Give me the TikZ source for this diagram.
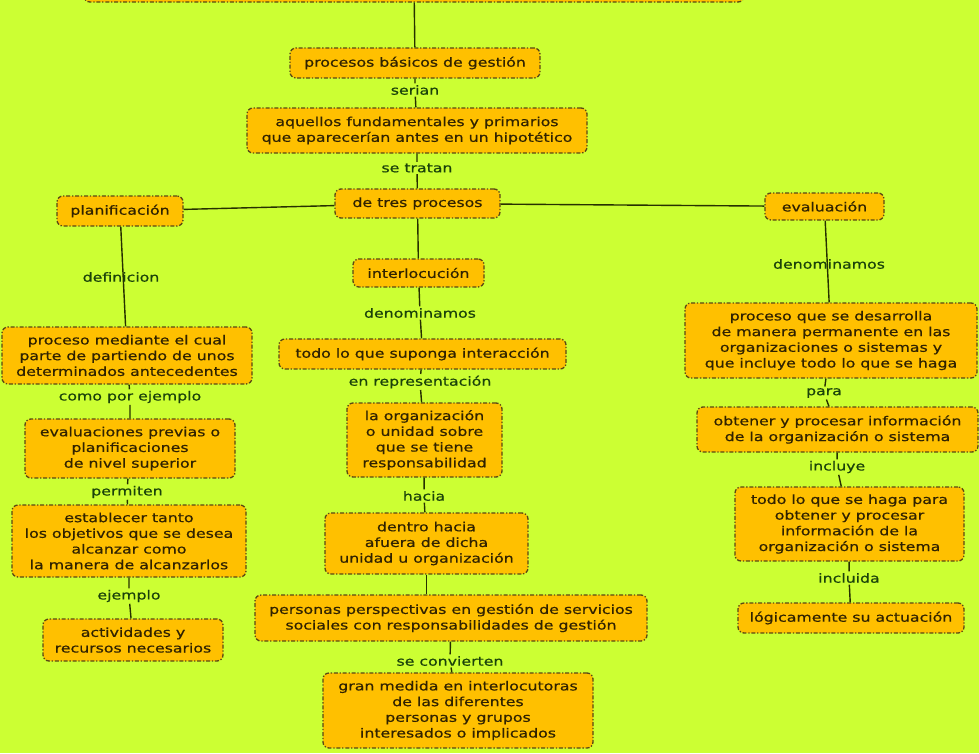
\documentclass[tikz,border=0pt]{standalone}
\usepackage{fontspec}
\setmainfont{DejaVu Sans}[FakeStretch=1.26, FakeBold=0.6]
\definecolor{bgc}{HTML}{CCFF33}
\definecolor{nodefill}{HTML}{FFC000}
\definecolor{nodeborder}{HTML}{5A4814}
\definecolor{nodetext}{HTML}{302200}
\definecolor{labtext}{HTML}{1A420A}
\definecolor{linec}{HTML}{263000}
\begin{document}
\begin{tikzpicture}[x=1pt,y=-1pt,
  concept/.style={draw=nodeborder, fill=nodefill, rounded corners=6pt, line width=1.3pt,
    dash pattern=on 4pt off 1.8pt on 1.3pt off 1.8pt, text=nodetext, align=center,
    font=\fontsize{12.5}{15.7}\selectfont, inner sep=0pt},
  sz/.style 2 args={minimum width=#1pt, minimum height=#2pt},
  lab/.style={text=labtext, font=\fontsize{12.5}{15.7}\selectfont, inner sep=1.5pt},
  conn/.style={draw=linec, line width=1.4pt}]
\useasboundingbox (0,0) rectangle (979,753);
\clip (0,0) rectangle (979,753);
\fill[bgc] (0,0) rectangle (979,753);

% concepts
\node[concept, sz={660}{42}] (top) at (414,-19) {};
\node[concept, sz={250}{30}] (pbg) at (415,63) {procesos básicos de gestión};
\node[concept, sz={340}{45}] (aquellos) at (417,130.5) {aquellos fundamentales y primarios\\que aparecerían antes en un hipotético};
\node[concept, sz={165}{29}] (tres) at (417.5,203.5) {de tres procesos};
\node[concept, sz={126}{30}] (plan) at (120,211) {planificación};
\node[concept, sz={119}{27}] (eval) at (824.5,206.5) {evaluación};
\node[concept, sz={131}{28}] (interloc) at (418.5,273) {interlocución};
\node[concept, sz={287}{30}] (todo) at (422.5,354) {todo lo que suponga interacción};
\node[concept, sz={155}{74}] (laorg) at (424.5,440) {la organización\\o unidad sobre\\que se tiene\\responsabilidad};
\node[concept, sz={203}{61}] (dentro) at (426.5,543.5) {dentro hacia\\afuera de dicha\\unidad u organización};
\node[concept, sz={392}{46}] (personas) at (451,618) {personas perspectivas en gestión de servicios\\sociales con responsabilidades de gestión};
\node[concept, sz={270}{75}] (gran) at (458,710.5) {gran medida en interlocutoras\\de las diferentes\\personas y grupos\\interesados o implicados};
\node[concept, sz={250}{57}] (procmed) at (127,355.5) {proceso mediante el cual\\parte de partiendo de unos\\determinados antecedentes};
\node[concept, sz={210}{59}] (evalprev) at (130,448.5) {evaluaciones previas o\\planificaciones\\de nivel superior};
\node[concept, sz={234}{72}] (establecer) at (129,541) {establecer tanto\\los objetivos que se desea\\alcanzar como\\la manera de alcanzarlos};
\node[concept, sz={180}{42}] (actividades) at (133,640) {actividades y\\recursos necesarios};
\node[concept, sz={292}{75}] (procdes) at (831,340.5) {proceso que se desarrolla\\de manera permanente en las\\organizaciones o sistemas y\\que incluye todo lo que se haga};
\node[concept, sz={281}{45}] (obtener) at (837.5,429.5) {obtener y procesar información\\de la organización o sistema};
\node[concept, sz={229}{74}] (todohaga) at (849.5,524) {todo lo que se haga para\\obtener y procesar\\información de la\\organización o sistema};
\node[concept, sz={226}{30}] (logic) at (851,618) {lógicamente su actuación};

% linking phrases
\node[lab] (serian) at (415,90) {serian};
\node[lab] (setratan) at (417,168) {se tratan};
\node[lab] (denom1) at (420,313) {denominamos};
\node[lab] (enrep) at (420,382) {en representación};
\node[lab] (hacia) at (424,496) {hacia};
\node[lab] (seconv) at (450,661) {se convierten};
\node[lab] (como) at (130,397) {como por ejemplo};
\node[lab] (permiten) at (127,492) {permiten};
\node[lab] (ejemplo) at (129,596) {ejemplo};
\node[lab] (para) at (824,393) {para};
\node[lab] (incluye) at (837,467) {incluye};
\node[lab] (incluida) at (849,578) {incluida};

% connectors
\draw[conn] (top) -- (pbg);
\draw[conn] (pbg) -- (serian) -- (aquellos);
\draw[conn] (aquellos) -- (setratan) -- (tres);
\draw[conn] (plan) -- (tres);
\draw[conn] (tres) -- (eval);
\draw[conn] (tres) -- (interloc);
\draw[conn] (interloc) -- (denom1) -- (todo);
\draw[conn] (todo) -- (enrep) -- (laorg);
\draw[conn] (laorg) -- (hacia) -- (dentro);
\draw[conn] (dentro.south) -- (dentro.south |- personas.north);
\draw[conn] (personas) -- (seconv) -- (gran);
\draw[conn] (plan) -- (procmed);
\draw[conn] (procmed) -- (como) -- (evalprev);
\draw[conn] (evalprev) -- (permiten) -- (establecer);
\draw[conn] (establecer) -- (ejemplo) -- (actividades);
\draw[conn] (eval) -- (procdes);
\draw[conn] (procdes) -- (para) -- (obtener);
\draw[conn] (obtener) -- (incluye) -- (todohaga);
\draw[conn] (todohaga) -- (incluida) -- (logic);

% labels crossed by their connector
\node[lab] (definicion) at (121,277) {definicion};
\node[lab] (denom2) at (829,264) {denominamos};
\end{tikzpicture}
\end{document}
